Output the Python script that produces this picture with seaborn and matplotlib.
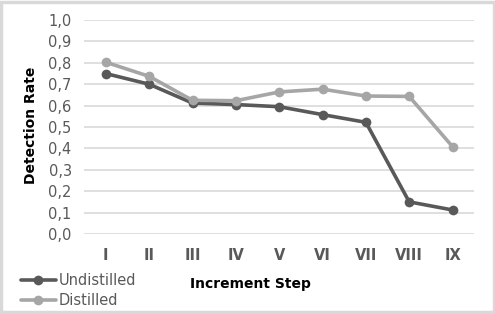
import matplotlib
matplotlib.use("Agg")
import matplotlib.pyplot as plt
import seaborn as sns
import pandas as pd
from matplotlib.ticker import FuncFormatter, MultipleLocator
from matplotlib.patches import Rectangle

steps = ["I", "II", "III", "IV", "V", "VI", "VII", "VIII", "IX"]
undistilled = [0.75, 0.70, 0.612, 0.605, 0.595, 0.558, 0.522, 0.150, 0.112]
distilled = [0.803, 0.737, 0.625, 0.623, 0.664, 0.677, 0.645, 0.643, 0.408]
series_names = ["Undistilled", "Distilled"]

df = pd.DataFrame({
    "step": steps * 2,
    "rate": undistilled + distilled,
    "series": [series_names[0]] * len(steps) + [series_names[1]] * len(steps),
})

sns.set_theme(style="white")
plt.rcParams["font.family"] = ["DejaVu Sans"]

fig = plt.figure(figsize=(4.95, 3.14), dpi=100)
ax = fig.add_axes([0.170, 0.255, 0.788, 0.681])

sns.lineplot(data=df, x="step", y="rate", hue="series", sort=False,
             palette={"Undistilled": "#595959", "Distilled": "#a6a6a6"},
             marker="o", markersize=7, markeredgewidth=0, linewidth=2.6,
             ax=ax, legend=True)

ax.set_xlim(-0.5, len(steps) - 0.5)
ax.set_ylim(0, 1.0)
ax.yaxis.set_major_locator(MultipleLocator(0.1))
ax.yaxis.set_major_formatter(FuncFormatter(lambda v, p: f"{v:.1f}".replace(".", ",")))
ax.grid(axis="y", color="#d9d9d9", linewidth=1.2)
ax.grid(axis="x", visible=False)
ax.set_axisbelow(True)
for s in ax.spines.values():
    s.set_visible(False)
ax.tick_params(axis="y", length=0, labelsize=10.5, labelcolor="#595959", pad=9)
ax.tick_params(axis="x", length=0, labelsize=10.5, labelcolor="#595959", pad=10)
for lbl in ax.get_xticklabels():
    lbl.set_fontweight("bold")

ax.set_xlabel("Increment Step", fontsize=10, fontweight="bold", color="black")
ax.xaxis.set_label_coords(0.426, -0.2)
ax.set_ylabel("Detection Rate", fontsize=10, fontweight="bold", color="black")
ax.yaxis.set_label_coords(-0.118, 0.51)

handles, labels = ax.get_legend_handles_labels()
ax.legend(handles, labels, loc="lower left", bbox_to_anchor=(0.042, 0.02),
          bbox_transform=fig.transFigure, frameon=False, fontsize=10.5,
          handlelength=2.4, handletextpad=0.2, labelspacing=0.35,
          labelcolor="#595959", borderpad=0, borderaxespad=0)

fig.patches.append(Rectangle((0.003, 0.005), 0.994, 0.99, transform=fig.transFigure,
                             fill=False, edgecolor="#d9d9d9", linewidth=2.5))

fig.savefig("out.png", dpi=100)
